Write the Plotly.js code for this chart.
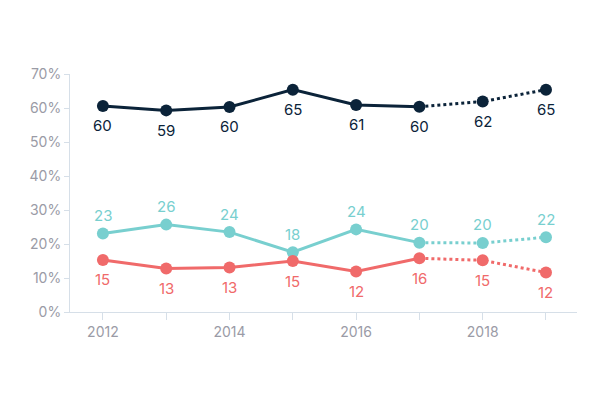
<!DOCTYPE html>
<html>
<head>
<meta charset="utf-8">
<script src="https://cdn.plot.ly/plotly-3.0.1.min.js"></script>
<style>html,body{margin:0;padding:0;background:#fff;}#chart{width:600px;height:400px;}</style>
</head>
<body>
<div id="chart"></div>
<script>
var years = [2012, 2013, 2014, 2015, 2016, 2017, 2018, 2019];
var darkValues = [60.6, 59.3, 60.3, 65.4, 60.9, 60.4, 61.9, 65.4];
var darkLabels = ["60", "59", "60", "65", "61", "60", "62", "65"];
var tealValues = [23.1, 25.7, 23.5, 17.6, 24.3, 20.4, 20.3, 22.0];
var tealLabels = ["23", "26", "24", "18", "24", "20", "20", "22"];
var redValues = [15.3, 12.8, 13.1, 15.0, 11.9, 15.8, 15.2, 11.6];
var redLabels = ["15", "13", "13", "15", "12", "16", "15", "12"];
var splitIndex = 5; // 2017: solid up to here, dotted after
var tickYears = [2012, 2014, 2016, 2018];
var yTicks = [0, 10, 20, 30, 40, 50, 60, 70];
var yTickLabels = ["0%", "10%", "20%", "30%", "40%", "50%", "60%", "70%"];

var DARK = "#0b2339", TEAL = "#78cfcf", RED = "#f06a6a";
var FONT = "Inter, 'Open Sans', sans-serif";

var annotations = [];
function series(vals, labels, color, shift) {
  var solidX = years.slice(0, splitIndex + 1), solidY = vals.slice(0, splitIndex + 1);
  var dotX = years.slice(splitIndex), dotY = vals.slice(splitIndex);
  years.forEach(function(yr, i) {
    annotations.push({x: yr, y: vals[i], xref: "x", yref: "y", text: labels[i], showarrow: false,
      yshift: shift, xanchor: "center", yanchor: "middle",
      font: {color: color, size: 15, family: FONT}});
  });
  return [
    {x: solidX, y: solidY, mode: "lines", line: {color: color, width: 3}, hoverinfo: "skip", showlegend: false},
    {x: dotX, y: dotY, mode: "lines", line: {color: color, width: 3, dash: "dot"}, hoverinfo: "skip", showlegend: false},
    {x: years, y: vals, mode: "markers", marker: {color: color, size: 12}, cliponaxis: false, showlegend: false}
  ];
}

var data = [].concat(
  series(tealValues, tealLabels, TEAL, 18),
  series(redValues, redLabels, RED, -20),
  series(darkValues, darkLabels, DARK, -20)
);

var layout = {
  width: 600, height: 400,
  margin: {l: 70, r: 23, t: 74, b: 88},
  paper_bgcolor: "#fff", plot_bgcolor: "#fff",
  font: {family: FONT, color: "#9a9ba6", size: 14},
  annotations: annotations,
  xaxis: {
    range: [2011.48, 2019.49], showgrid: false, zeroline: false,
    showline: true, linecolor: "#d6dfe8", linewidth: 1,
    tickmode: "array", tickvals: years, ticktext: years.map(function(y){ return tickYears.indexOf(y) >= 0 ? String(y) : ""; }),
    ticks: "outside", ticklen: 7, tickcolor: "#d6dfe8", tickfont: {size: 14, color: "#9a9ba6"}
  },
  yaxis: {
    range: [0, 70], showgrid: false, zeroline: false,
    showline: true, linecolor: "#d6dfe8", linewidth: 1,
    tickmode: "array", tickvals: yTicks, ticktext: yTickLabels,
    ticks: "outside", ticklen: 5, tickcolor: "#d6dfe8", tickfont: {size: 14, color: "#9a9ba6"}
  }
};

Plotly.newPlot("chart", data, layout, {displayModeBar: false, staticPlot: true});
</script>
</body>
</html>
